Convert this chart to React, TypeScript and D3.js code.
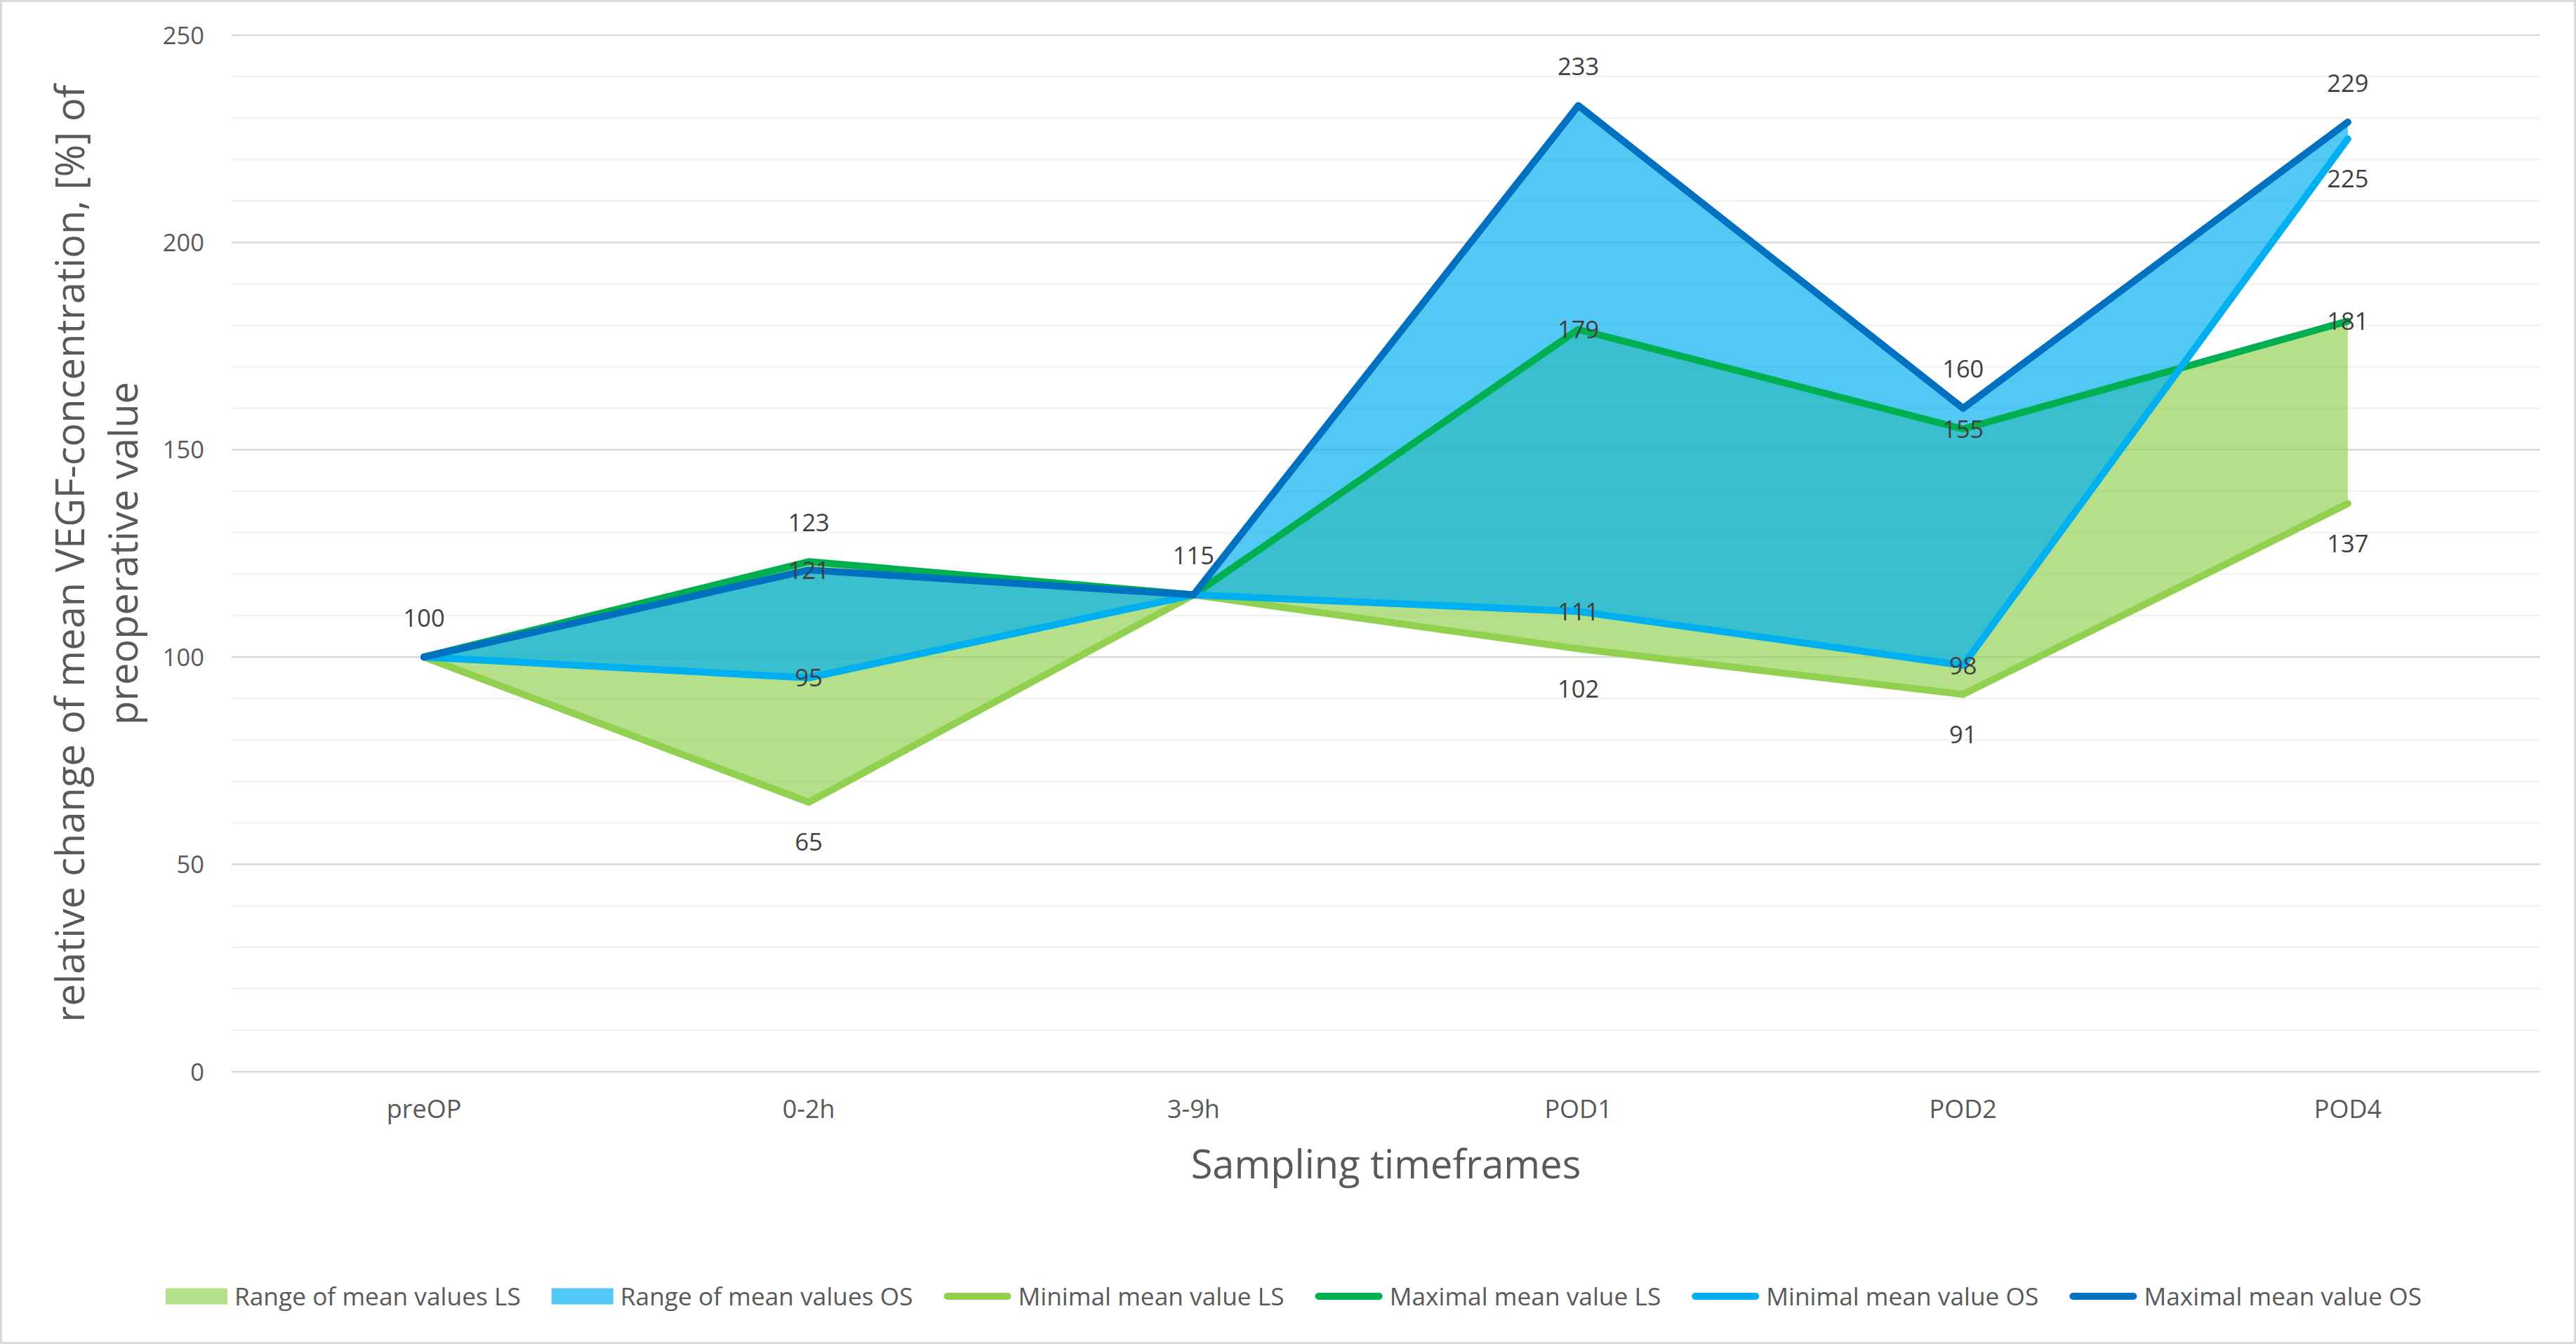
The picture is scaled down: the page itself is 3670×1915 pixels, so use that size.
import React, { useEffect, useRef } from 'react';
import * as d3 from 'd3';

// ---- data ----
const categories = ['preOP', '0-2h', '3-9h', 'POD1', 'POD2', 'POD4'];
const minLS = [100, 65, 115, 102, 91, 137];
const maxLS = [100, 123, 115, 179, 155, 181];
const minOS = [100, 95, 115, 111, 98, 225];
const maxOS = [100, 121, 115, 233, 160, 229];
const yTicks = [0, 50, 100, 150, 200, 250];
const yMinorStep = 10;

// data label placement per point: a = above, b = below, c = centred, '' = none
const labelMinLS = ['', 'b', '', 'b', 'b', 'b'];
const labelMaxLS = ['', 'a', '', 'c', 'c', 'c'];
const labelMinOS = ['', 'c', '', 'c', 'c', 'b'];
const labelMaxOS = ['a', 'c', 'a', 'a', 'a', 'a'];

const xTitle = 'Sampling timeframes';
const yTitleLines = ['relative change of mean VEGF-concentration, [%] of', 'preoperative value'];

const GREEN_LIGHT = '#92D050';
const GREEN = '#00B050';
const BLUE_LIGHT = '#00B0F0';
const BLUE = '#0070C0';

const W = 3670;
const H = 1915;
const FONT = "'Open Sans', 'Noto Sans', sans-serif";

export default function App() {
  const ref = useRef<SVGSVGElement | null>(null);

  useEffect(() => {
    const svg = d3.select(ref.current);
    svg.selectAll('*').remove();

    const left = 330, right = 3619, top = 50, bottom = 1527;
    const x = d3.scalePoint<string>().domain(categories).range([left, right]).padding(0.5);
    const y = d3.scaleLinear().domain([0, 250]).range([bottom, top]);

    // background + border
    svg.append('rect').attr('x', 1.5).attr('y', 1.5).attr('width', W - 3).attr('height', H - 3)
      .attr('fill', '#fff').attr('stroke', '#D9D9D9').attr('stroke-width', 3);

    // gridlines
    const minor = d3.range(yMinorStep, 250, yMinorStep).filter((v) => !yTicks.includes(v));
    svg.append('g').selectAll('line').data(minor).join('line')
      .attr('x1', left).attr('x2', right)
      .attr('y1', (d) => y(d)).attr('y2', (d) => y(d))
      .attr('stroke', '#F2F2F2').attr('stroke-width', 2.5);
    svg.append('g').selectAll('line').data(yTicks).join('line')
      .attr('x1', left).attr('x2', right)
      .attr('y1', (d) => y(d)).attr('y2', (d) => y(d))
      .attr('stroke', '#D9D9D9').attr('stroke-width', 2.5);

    // y tick labels
    svg.append('g').selectAll('text').data(yTicks).join('text')
      .attr('x', 291).attr('y', (d) => y(d) + 12.5)
      .attr('text-anchor', 'end').attr('font-family', FONT).attr('font-size', 34.5)
      .attr('fill', '#595959').text((d) => String(d));

    // x tick labels
    svg.append('g').selectAll('text').data(categories).join('text')
      .attr('x', (d) => x(d) as number).attr('y', 1593)
      .attr('text-anchor', 'middle').attr('font-family', FONT).attr('font-size', 36)
      .attr('fill', '#595959').text((d) => d);

    // axis titles
    svg.append('text').attr('x', (left + right) / 2).attr('y', 1679)
      .attr('text-anchor', 'middle').attr('font-family', FONT).attr('font-size', 56)
      .attr('fill', '#595959').text(xTitle);
    const yc = (top + bottom) / 2;
    const yBase = [120, 196];
    yTitleLines.forEach((t, i) => {
      svg.append('text').attr('transform', `translate(${yBase[i]},${yc}) rotate(-90)`)
        .attr('text-anchor', 'middle').attr('font-family', FONT).attr('font-size', 56)
        .attr('fill', '#595959').text(t);
    });

    const idx = categories.map((_, i) => i);
    const px = (i: number) => x(categories[i]) as number;

    // areas
    const area = (lo: number[], hi: number[]) =>
      d3.area<number>().x((i) => px(i)).y0((i) => y(lo[i])).y1((i) => y(hi[i]))(idx) as string;
    svg.append('path').attr('d', area(minLS, maxLS)).attr('fill', GREEN_LIGHT).attr('fill-opacity', 0.68);
    svg.append('path').attr('d', area(minOS, maxOS)).attr('fill', BLUE_LIGHT).attr('fill-opacity', 0.68);

    // lines
    const lineGen = (vals: number[]) =>
      d3.line<number>().x((i) => px(i)).y((i) => y(vals[i]))(idx) as string;
    const series = [
      { vals: minLS, color: GREEN_LIGHT, labels: labelMinLS },
      { vals: maxLS, color: GREEN, labels: labelMaxLS },
      { vals: minOS, color: BLUE_LIGHT, labels: labelMinOS },
      { vals: maxOS, color: BLUE, labels: labelMaxOS },
    ];
    series.forEach((s) => {
      svg.append('path').attr('d', lineGen(s.vals)).attr('fill', 'none')
        .attr('stroke', s.color).attr('stroke-width', 10)
        .attr('stroke-linejoin', 'round').attr('stroke-linecap', 'round');
    });

    // data labels
    const lg = svg.append('g');
    series.forEach((s) => {
      s.vals.forEach((v, i) => {
        const pos = s.labels[i];
        if (!pos) return;
        const off = pos === 'a' ? -56 : pos === 'b' ? 57 : 0;
        lg.append('text').attr('x', px(i)).attr('y', y(v) + off + 12.5)
          .attr('text-anchor', 'middle').attr('font-family', FONT).attr('font-size', 34.5)
          .attr('fill', '#404040').text(String(v));
      });
    });

    // legend
    const legendItems = [
      { label: 'Range of mean values LS', kind: 'rect', color: GREEN_LIGHT },
      { label: 'Range of mean values OS', kind: 'rect', color: BLUE_LIGHT },
      { label: 'Minimal mean value LS', kind: 'line', color: GREEN_LIGHT },
      { label: 'Maximal mean value LS', kind: 'line', color: GREEN },
      { label: 'Minimal mean value OS', kind: 'line', color: BLUE_LIGHT },
      { label: 'Maximal mean value OS', kind: 'line', color: BLUE },
    ];
    const legY = 1847;
    const leg = svg.append('g');
    const swW = (k: string) => (k === 'rect' ? 88 : 96);
    const gapText = 10, gapItem = 44;
    const texts = legendItems.map((it) =>
      leg.append('text').attr('font-family', FONT).attr('font-size', 35.3)
        .attr('fill', '#595959').attr('y', legY + 12.5).text(it.label));
    const widths = texts.map((t) => (t.node() as SVGTextElement).getComputedTextLength());
    const total = legendItems.reduce((acc, it, i) => acc + swW(it.kind) + gapText + widths[i], 0)
      + gapItem * (legendItems.length - 1);
    let cx = 1843 - total / 2;
    legendItems.forEach((it, i) => {
      if (it.kind === 'rect') {
        leg.append('rect').attr('x', cx).attr('y', legY - 11.5).attr('width', 88).attr('height', 23)
          .attr('fill', it.color).attr('fill-opacity', 0.68);
      } else {
        leg.append('line').attr('x1', cx + 5).attr('x2', cx + 96 - 5)
          .attr('y1', legY).attr('y2', legY).attr('stroke', it.color)
          .attr('stroke-width', 10).attr('stroke-linecap', 'round');
      }
      cx += swW(it.kind) + gapText;
      texts[i].attr('x', cx);
      cx += widths[i] + gapItem;
    });
  }, []);

  return (
    <svg ref={ref} width={W} height={H} viewBox={`0 0 ${W} ${H}`}
      style={{ position: 'absolute', left: 0, top: 0, background: '#fff' }} />
  );
}
